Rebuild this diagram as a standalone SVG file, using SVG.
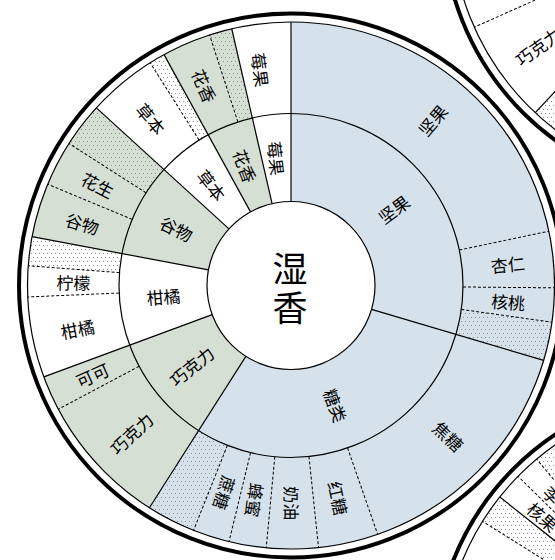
<svg xmlns="http://www.w3.org/2000/svg" width="555" height="560" viewBox="0 0 555 560">
<style>
.o{fill:none;stroke-width:91.5}
.m{fill:none;stroke-width:88}
.b{stroke:#d5e2eb}
.g{stroke:#d6dfd4}
.d{stroke:url(#dots)}
.thick{fill:#fff;stroke:#000;stroke-width:4}
.thin{fill:none;stroke:#000;stroke-width:1.2}
.sl{stroke:#000;stroke-width:1.2}
.dl{stroke:#000;stroke-width:1;stroke-dasharray:3 2}
.lbl{font-family:"Noto Sans CJK SC","Noto Sans CJK JP",sans-serif;font-size:17px;text-anchor:middle;dominant-baseline:central;fill:#000}
.ctr{font-family:"Noto Sans CJK SC","Noto Sans CJK JP",sans-serif;font-size:35px;text-anchor:middle;dominant-baseline:central;fill:#000}
</style>
<defs>
<pattern id="dots" patternUnits="userSpaceOnUse" width="4" height="8">
<rect x="1" y="1" width="1" height="1" fill="#8f8f8f"/>
<rect x="3" y="5" width="1" height="1" fill="#8f8f8f"/>
</pattern>
</defs>
<rect x="0" y="0" width="555" height="560" fill="#fff"/>

<!-- neighbour wheel, top right -->
<g id="wheel-top-right">
<circle class="thick" cx="715" cy="-80" r="272"/>
<circle class="o d" cx="715" cy="-80" r="217.75" pathLength="360" stroke-dasharray="23 337" stroke-dashoffset="-110"/>
<circle class="thin" cx="715" cy="-80" r="263.5"/>
<circle class="thin" cx="715" cy="-80" r="172"/>
<line class="sl" x1="715" y1="-252" x2="715" y2="-343.5" transform="rotate(223 715 -80)"/>
<line class="dl" x1="715" y1="-252" x2="715" y2="-343.5" transform="rotate(246 715 -80)"/>
<text class="lbl" transform="translate(715 -80) rotate(234.5) translate(0 -217.75) rotate(90)">巧克力</text>
</g>

<!-- neighbour wheel, bottom right -->
<g id="wheel-bottom-right">
<circle class="thick" cx="706" cy="661" r="272"/>
<circle class="o d" cx="706" cy="661" r="217.75" pathLength="360" stroke-dasharray="6.5 353.5" stroke-dashoffset="-212"/>
<circle class="o d" cx="706" cy="661" r="217.75" pathLength="360" stroke-dasharray="15 345" stroke-dashoffset="-230"/>
<circle class="thin" cx="706" cy="661" r="263.5"/>
<circle class="thin" cx="706" cy="661" r="172"/>
<line class="dl" x1="706" y1="489" x2="706" y2="397.5" transform="rotate(302 706 661)"/>
<line class="sl" x1="706" y1="489" x2="706" y2="397.5" transform="rotate(308.5 706 661)"/>
<line class="dl" x1="706" y1="489" x2="706" y2="397.5" transform="rotate(314.5 706 661)"/>
<line class="dl" x1="706" y1="489" x2="706" y2="397.5" transform="rotate(320 706 661)"/>
<text class="lbl" transform="translate(706 661) rotate(311.5) translate(0 -217.75) rotate(90)">核果</text>
<text class="lbl" x="-8.5" y="0" transform="translate(706 661) rotate(317.25) translate(0 -217.75) rotate(90)">李</text>
</g>

<!-- main wheel -->
<circle class="thick" cx="291" cy="285.5" r="272"/>

<g id="nuts">
<circle class="m b" cx="291" cy="285.5" r="128" pathLength="360" stroke-dasharray="106.5 253.5" stroke-dashoffset="89.9"/>
<text class="lbl" transform="translate(291 285.5) rotate(53.25) translate(0 -128) rotate(-90)">坚果</text>
</g>
<g id="nuts-nuts">
<circle class="o b" cx="291" cy="285.5" r="217.75" pathLength="360" stroke-dasharray="78.2 281.8" stroke-dashoffset="89.9"/>
<text class="lbl" transform="translate(291 285.5) rotate(40.5) translate(0 -217.75) rotate(-90)">坚果</text>
</g>
<g id="nuts-almond">
<circle class="o b" cx="291" cy="285.5" r="217.75" pathLength="360" stroke-dasharray="12.6 347.4" stroke-dashoffset="11.9"/>
<text class="lbl" transform="translate(291 285.5) rotate(84.3) translate(0 -217.75) rotate(-90)">杏仁</text>
</g>
<g id="nuts-walnut">
<circle class="o b" cx="291" cy="285.5" r="217.75" pathLength="360" stroke-dasharray="7.7 352.3" stroke-dashoffset="-0.5"/>
<text class="lbl" transform="translate(291 285.5) rotate(94.25) translate(0 -217.75) rotate(-90)">核桃</text>
</g>
<g id="nuts-dotted">
<circle class="o b" cx="291" cy="285.5" r="217.75" pathLength="360" stroke-dasharray="8.6 351.4" stroke-dashoffset="-8"/>
<circle class="o d" cx="291" cy="285.5" r="217.75" pathLength="360" stroke-dasharray="8.5 351.5" stroke-dashoffset="-8"/>
</g>

<g id="sugar">
<circle class="m b" cx="291" cy="285.5" r="128" pathLength="360" stroke-dasharray="106.2 253.8" stroke-dashoffset="-16.5"/>
<text class="lbl" transform="translate(291 285.5) rotate(159.5) translate(0 -128) rotate(-90)">糖类</text>
</g>
<g id="sugar-caramel">
<circle class="o b" cx="291" cy="285.5" r="217.75" pathLength="360" stroke-dasharray="54.5 305.5" stroke-dashoffset="-16.5"/>
<text class="lbl" transform="translate(291 285.5) rotate(133.65) translate(0 -217.75) rotate(-90)">焦糖</text>
</g>
<g id="sugar-brown">
<circle class="o b" cx="291" cy="285.5" r="217.75" pathLength="360" stroke-dasharray="13.4 346.6" stroke-dashoffset="-70.8"/>
<text class="lbl" transform="translate(291 285.5) rotate(167.4) translate(0 -217.75) rotate(-90)">红糖</text>
</g>
<g id="sugar-butter">
<circle class="o b" cx="291" cy="285.5" r="217.75" pathLength="360" stroke-dasharray="11.6 348.4" stroke-dashoffset="-84"/>
<text class="lbl" transform="translate(291 285.5) rotate(179.7) translate(0 -217.75) rotate(-90)">奶油</text>
</g>
<g id="sugar-honey">
<circle class="o b" cx="291" cy="285.5" r="217.75" pathLength="360" stroke-dasharray="8.4 351.6" stroke-dashoffset="-95.4"/>
<text class="lbl" transform="translate(291 285.5) rotate(189.5) translate(0 -217.75) rotate(-90)">蜂蜜</text>
</g>
<g id="sugar-cane">
<circle class="o b" cx="291" cy="285.5" r="217.75" pathLength="360" stroke-dasharray="8.3 351.7" stroke-dashoffset="-103.6"/>
<text class="lbl" transform="translate(291 285.5) rotate(197.65) translate(0 -217.75) rotate(-90)">蔗糖</text>
</g>
<g id="sugar-dotted">
<circle class="o b" cx="291" cy="285.5" r="217.75" pathLength="360" stroke-dasharray="11 349" stroke-dashoffset="-111.7"/>
<circle class="o d" cx="291" cy="285.5" r="217.75" pathLength="360" stroke-dasharray="10.8 349.2" stroke-dashoffset="-111.7"/>
</g>

<g id="chocolate">
<circle class="m g" cx="291" cy="285.5" r="128" pathLength="360" stroke-dasharray="37.2 322.8" stroke-dashoffset="-122.5"/>
<text class="lbl" transform="translate(291 285.5) rotate(231.1) translate(0 -128) rotate(90)">巧克力</text>
</g>
<g id="chocolate-chocolate">
<circle class="o g" cx="291" cy="285.5" r="217.75" pathLength="360" stroke-dasharray="29.7 330.3" stroke-dashoffset="-122.5"/>
<text class="lbl" transform="translate(291 285.5) rotate(227.25) translate(0 -217.75) rotate(90)">巧克力</text>
</g>
<g id="chocolate-cocoa">
<circle class="o g" cx="291" cy="285.5" r="217.75" pathLength="360" stroke-dasharray="7.7 352.3" stroke-dashoffset="-152"/>
<text class="lbl" transform="translate(291 285.5) rotate(245.85) translate(0 -217.75) rotate(90)">可可</text>
</g>

<g id="citrus">
<text class="lbl" transform="translate(291 285.5) rotate(265.2) translate(0 -128) rotate(90)">柑橘</text>
</g>
<g id="citrus-citrus">
<text class="lbl" transform="translate(291 285.5) rotate(258.6) translate(0 -217.75) rotate(90)">柑橘</text>
</g>
<g id="citrus-lemon">
<text class="lbl" transform="translate(291 285.5) rotate(270.9) translate(0 -217.75) rotate(90)">柠檬</text>
</g>
<g id="citrus-dotted">
<circle class="o d" cx="291" cy="285.5" r="217.75" pathLength="360" stroke-dasharray="6.4 353.6" stroke-dashoffset="-184.3"/>
</g>

<g id="grain">
<circle class="m g" cx="291" cy="285.5" r="128" pathLength="360" stroke-dasharray="31.7 328.3" stroke-dashoffset="-190.7"/>
<text class="lbl" transform="translate(291 285.5) rotate(296.55) translate(0 -128) rotate(90)">谷物</text>
</g>
<g id="grain-grain">
<circle class="o g" cx="291" cy="285.5" r="217.75" pathLength="360" stroke-dasharray="12.1 347.9" stroke-dashoffset="-190.7"/>
<text class="lbl" transform="translate(291 285.5) rotate(286.65) translate(0 -217.75) rotate(90)">谷物</text>
</g>
<g id="grain-peanut">
<circle class="o g" cx="291" cy="285.5" r="217.75" pathLength="360" stroke-dasharray="10.2 349.8" stroke-dashoffset="-202.6"/>
<text class="lbl" transform="translate(291 285.5) rotate(297.6) translate(0 -217.75) rotate(90)">花生</text>
</g>
<g id="grain-dotted">
<circle class="o g" cx="291" cy="285.5" r="217.75" pathLength="360" stroke-dasharray="9.8 350.2" stroke-dashoffset="-212.6"/>
<circle class="o d" cx="291" cy="285.5" r="217.75" pathLength="360" stroke-dasharray="9.8 350.2" stroke-dashoffset="-212.6"/>
</g>

<g id="herb">
<text class="lbl" transform="translate(291 285.5) rotate(321.8) translate(0 -128) rotate(90)">草本</text>
</g>
<g id="herb-herb">
<text class="lbl" transform="translate(291 285.5) rotate(320.05) translate(0 -217.75) rotate(90)">草本</text>
</g>
<g id="herb-dotted">
<circle class="o d" cx="291" cy="285.5" r="217.75" pathLength="360" stroke-dasharray="3.5 356.5" stroke-dashoffset="-237.7"/>
</g>

<g id="floral">
<circle class="m g" cx="291" cy="285.5" r="128" pathLength="360" stroke-dasharray="15.8 344.2" stroke-dashoffset="-241.2"/>
<text class="lbl" transform="translate(291 285.5) rotate(339.1) translate(0 -128) rotate(90)">花香</text>
</g>
<g id="floral-floral">
<circle class="o g" cx="291" cy="285.5" r="217.75" pathLength="360" stroke-dasharray="11 349" stroke-dashoffset="-241.2"/>
<text class="lbl" transform="translate(291 285.5) rotate(336.6) translate(0 -217.75) rotate(90)">花香</text>
</g>
<g id="floral-dotted">
<circle class="o g" cx="291" cy="285.5" r="217.75" pathLength="360" stroke-dasharray="5 355" stroke-dashoffset="-252"/>
<circle class="o d" cx="291" cy="285.5" r="217.75" pathLength="360" stroke-dasharray="5 355" stroke-dashoffset="-252"/>
</g>

<g id="berry">
<text class="lbl" transform="translate(291 285.5) rotate(353.5) translate(0 -128) rotate(90)">莓果</text>
</g>
<g id="berry-berry">
<text class="lbl" transform="translate(291 285.5) rotate(352) translate(0 -217.75) rotate(90)">莓果</text>
</g>

<g id="rings">
<circle class="thin" cx="291" cy="285.5" r="263.5"/>
<circle class="thin" cx="291" cy="285.5" r="172"/>
</g>
<g id="dividers">
<line class="sl" x1="291" y1="201.5" x2="291" y2="22"/>
<line class="sl" x1="291" y1="201.5" x2="291" y2="22" transform="rotate(106.5 291 285.5)"/>
<line class="sl" x1="291" y1="201.5" x2="291" y2="22" transform="rotate(212.5 291 285.5)"/>
<line class="sl" x1="291" y1="201.5" x2="291" y2="22" transform="rotate(249.7 291 285.5)"/>
<line class="sl" x1="291" y1="201.5" x2="291" y2="22" transform="rotate(280.7 291 285.5)"/>
<line class="sl" x1="291" y1="201.5" x2="291" y2="22" transform="rotate(312.4 291 285.5)"/>
<line class="sl" x1="291" y1="201.5" x2="291" y2="22" transform="rotate(331.2 291 285.5)"/>
<line class="sl" x1="291" y1="201.5" x2="291" y2="22" transform="rotate(347 291 285.5)"/>
<line class="dl" x1="291" y1="113.5" x2="291" y2="22" transform="rotate(78.1 291 285.5)"/>
<line class="dl" x1="291" y1="113.5" x2="291" y2="22" transform="rotate(90.5 291 285.5)"/>
<line class="dl" x1="291" y1="113.5" x2="291" y2="22" transform="rotate(98 291 285.5)"/>
<line class="dl" x1="291" y1="113.5" x2="291" y2="22" transform="rotate(160.8 291 285.5)"/>
<line class="dl" x1="291" y1="113.5" x2="291" y2="22" transform="rotate(174 291 285.5)"/>
<line class="dl" x1="291" y1="113.5" x2="291" y2="22" transform="rotate(185.4 291 285.5)"/>
<line class="dl" x1="291" y1="113.5" x2="291" y2="22" transform="rotate(193.6 291 285.5)"/>
<line class="dl" x1="291" y1="113.5" x2="291" y2="22" transform="rotate(201.7 291 285.5)"/>
<line class="dl" x1="291" y1="113.5" x2="291" y2="22" transform="rotate(242 291 285.5)"/>
<line class="dl" x1="291" y1="113.5" x2="291" y2="22" transform="rotate(267.5 291 285.5)"/>
<line class="dl" x1="291" y1="113.5" x2="291" y2="22" transform="rotate(274.3 291 285.5)"/>
<line class="dl" x1="291" y1="113.5" x2="291" y2="22" transform="rotate(292.6 291 285.5)"/>
<line class="dl" x1="291" y1="113.5" x2="291" y2="22" transform="rotate(302.6 291 285.5)"/>
<line class="dl" x1="291" y1="113.5" x2="291" y2="22" transform="rotate(327.7 291 285.5)"/>
<line class="dl" x1="291" y1="113.5" x2="291" y2="22" transform="rotate(342 291 285.5)"/>
</g>

<g id="center">
<circle cx="291" cy="285.5" r="84" fill="#fff" stroke="#000" stroke-width="1.2"/>
<text class="ctr" x="290" y="266">湿<tspan x="290" y="305">香</tspan></text>
</g>
</svg>
